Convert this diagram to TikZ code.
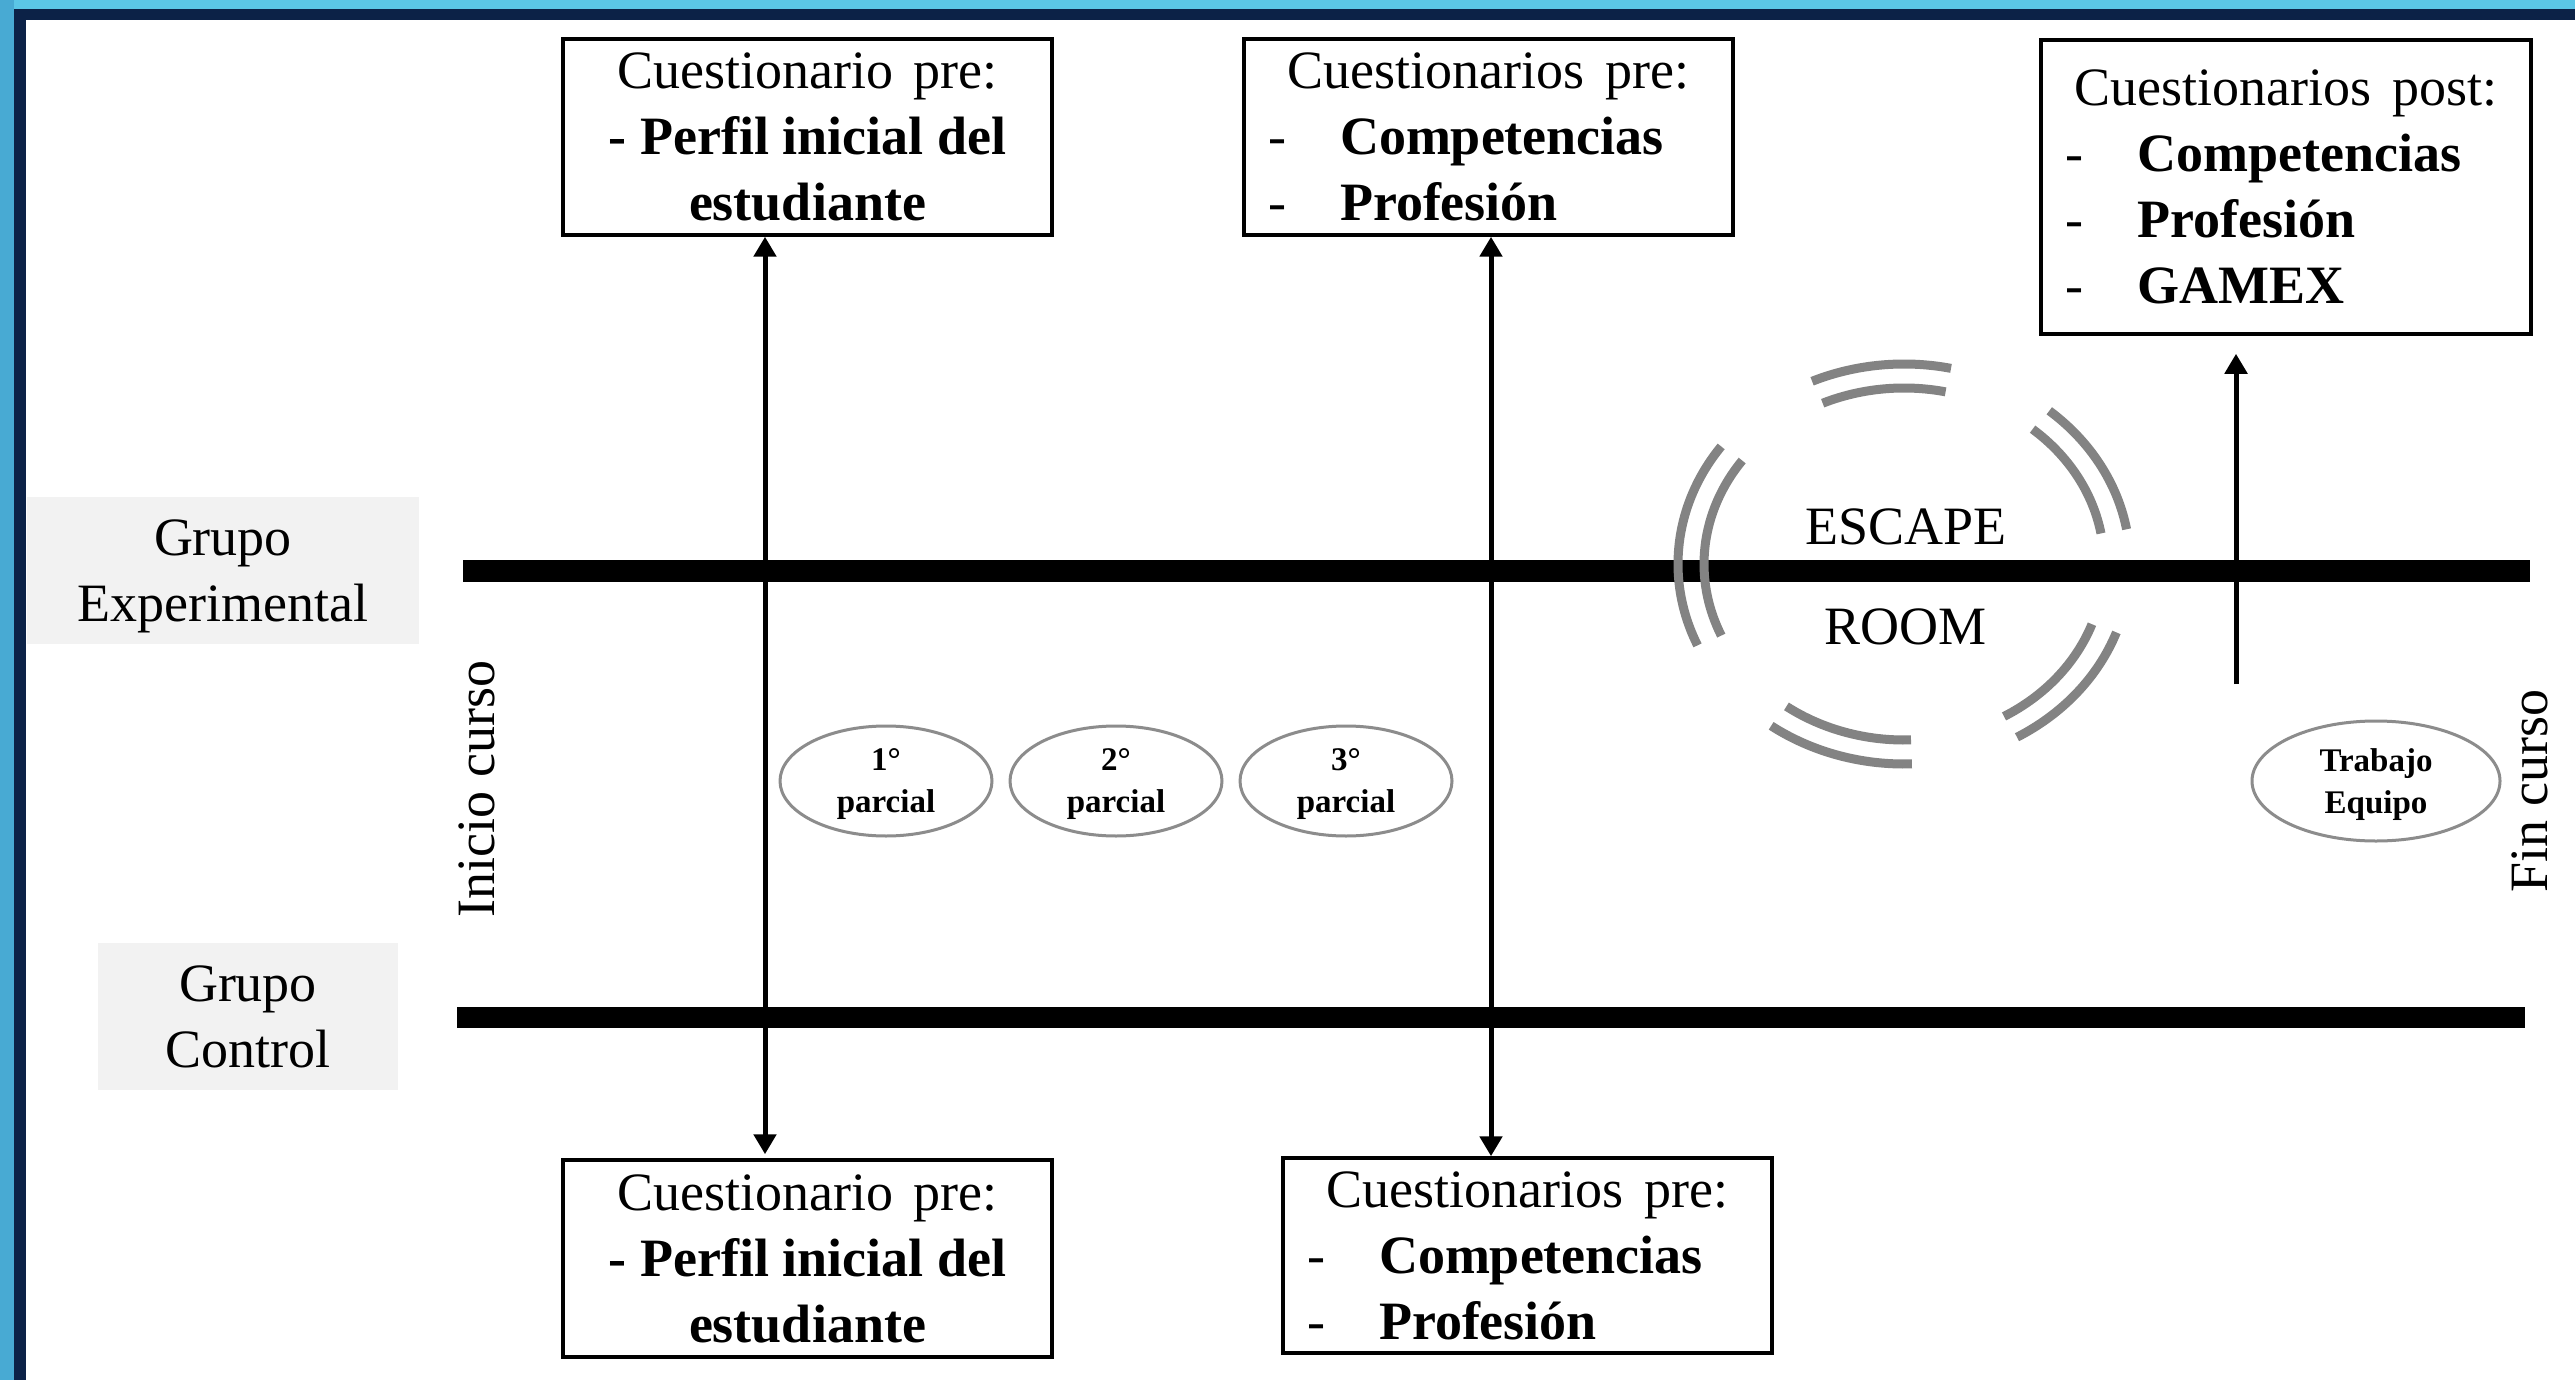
\documentclass[tikz,border=0pt]{standalone}
\usepackage{fontspec}
\setmainfont{Liberation Serif}
\usetikzlibrary{arrows.meta,shapes.geometric,calc}
\definecolor{lblue}{HTML}{5BC6E6}
\definecolor{lblueL}{HTML}{48AAD3}
\definecolor{navy}{HTML}{0C2247}
\definecolor{gbox}{HTML}{F2F2F2}
\definecolor{arcgray}{HTML}{838383}
\definecolor{ellgray}{HTML}{8C8C8C}
\newcommand{\fntbig}{\fontsize{54pt}{66pt}\selectfont}
\newcommand{\fntsmall}{\fontsize{33pt}{42pt}\selectfont\bfseries}
\newcommand{\itm}[1]{\makebox[489pt][l]{\hspace*{24pt}\makebox[72pt][l]{-}\textbf{#1}}}
\newcommand{\hdr}[1]{\makebox[489pt][c]{#1}}
\newcommand{\wsp}{\hspace{21pt}}
\begin{document}
\begin{tikzpicture}[x=1pt,y=-1pt,
  qbox/.style={draw,line width=3.5pt,inner sep=0pt,align=center,text depth=0pt,font=\fntbig},
  grp/.style={fill=gbox,inner sep=0pt,align=center,text depth=0pt,font=\fntbig},
  parc/.style={ellipse,draw=ellgray,line width=3pt,inner sep=0pt,align=center,text depth=0pt,font=\fntsmall},
  lbl/.style={inner sep=0pt,text depth=0pt,font=\fntbig},
  bar/.style={line width=22pt},
  earc/.style={draw=arcgray,line width=9pt},
  arr/.style={line width=5pt,-{Triangle[length=20pt,width=22pt]}},
  dbl/.style={line width=5pt,{Triangle[length=20pt,width=22pt]}-{Triangle[length=20pt,width=22pt]}}]
\useasboundingbox (0,0) rectangle (2575,1380);
\fill[white] (0,0) rectangle (2575,1380);
% frame
\fill[lblue] (0,0) rectangle (2575,9);
\fill[lblueL] (0,0) rectangle (14,1380);
\fill[navy] (14,9) rectangle (2575,20);
\fill[navy] (14,9) rectangle (26,1380);

% group labels
\node[grp,minimum width=392pt,minimum height=147pt] (ge) at (223,570.5) {Grupo\\Experimental};
\node[grp,minimum width=300pt,minimum height=147pt] (gc) at (248,1016.5) {Grupo\\Control};

% timelines
\coordinate (ge1) at (463,571);
\coordinate (ge2) at (2530,571);
\coordinate (gc1) at (457,1017.5);
\coordinate (gc2) at (2525,1017.5);
\draw[bar] (ge1) -- (ge2);
\draw[bar,line width=21pt] (gc1) -- (gc2);

% questionnaire boxes
\node[qbox,minimum width=489pt,minimum height=196pt] (qa) at (807.5,137)
  {Cuestionario\wsp pre:\\\textbf{- Perfil inicial del}\\\textbf{estudiante}};
\node[qbox,minimum width=489pt,minimum height=196pt] (qb) at (1488.5,137)
  {\hdr{Cuestionarios\wsp pre:}\\\itm{Competencias}\\\itm{Profesión}};
\node[qbox,minimum width=490pt,minimum height=294pt] (qc) at (2286,187)
  {\hdr{Cuestionarios\wsp post:}\\\itm{Competencias}\\\itm{Profesión}\\\itm{GAMEX}};
\node[qbox,minimum width=489pt,minimum height=197pt] (qd) at (807.5,1258.5)
  {Cuestionario\wsp pre:\\\textbf{- Perfil inicial del}\\\textbf{estudiante}};
\node[qbox,minimum width=489pt,minimum height=195pt] (qe) at (1527.5,1255.5)
  {\hdr{Cuestionarios\wsp pre:}\\\itm{Competencias}\\\itm{Profesión}};

% arrows
\coordinate (x1) at (765,0);
\coordinate (x2) at (1491,0);
\coordinate (x3s) at (2236,684);
\draw[dbl,shorten >=4pt] (qa.south -| x1) -- (qd.north -| x1);
\draw[dbl] (qb.south -| x2) -- (qe.north -| x2);
\draw[arr,shorten >=18pt] (x3s) -- (x3s |- qc.south);

% parciales
\node[parc,minimum width=212pt,minimum height=110pt] (p1) at (886,781) {1°\\parcial};
\node[parc,minimum width=212pt,minimum height=110pt] (p2) at (1116,781) {2°\\parcial};
\node[parc,minimum width=212pt,minimum height=110pt] (p3) at (1346,781) {3°\\parcial};
\node[parc,minimum width=248pt,minimum height=120pt] (te) at (2376,781) {Trabajo\\Equipo};

% course labels
\node[lbl,rotate=90] (ini) at (476.5,789) {Inicio curso};
\node[lbl,rotate=90] (fin) at (2529.5,791) {Fin curso};

% escape room
\coordinate (er) at (1904,564);
\foreach \a/\b in {-78/-114,-10/-50,60/20,126/88,-144/-204} {
  \draw[earc] ($(er)+(\a:226 and 200)$) arc[start angle=\a,end angle=\b,x radius=226,y radius=200];
  \draw[earc] ($(er)+(\a:200 and 176)$) arc[start angle=\a,end angle=\b,x radius=200,y radius=176];
}
\node[lbl] (esc) at (1906,527) {ESCAPE};
\node[lbl] (room) at (1905,627) {ROOM};
\end{tikzpicture}
\end{document}
